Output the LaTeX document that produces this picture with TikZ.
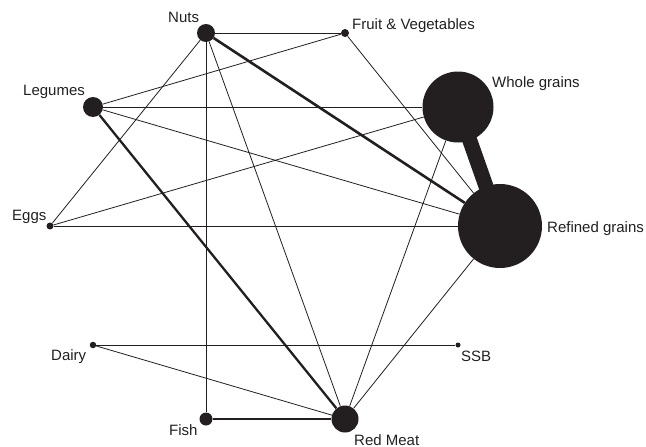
\documentclass[tikz,border=0pt]{standalone}
\usepackage{fontspec}
\setmainfont{Liberation Sans}
\usetikzlibrary{backgrounds}
\definecolor{ink}{RGB}{35,31,32}

\begin{document}
\begin{tikzpicture}[
    x=1pt, y=-1pt,
    food/.style={circle, fill=ink, inner sep=0pt, minimum size=#1},
    lbl/.style={anchor=base west, inner sep=0pt, text=ink,
                font=\fontsize{15}{18}\selectfont},
    link/.style={draw=ink, line width=0.8pt},
    strong/.style={draw=ink, line width=2.3pt}
]
\useasboundingbox (0,0) rectangle (646,447);

% Food groups
\node[food=18pt] (nuts) at (206,33) {};
\node[food=8pt] (fruitveg) at (345,33) {};
\node[food=71pt] (whole) at (458,107) {};
\node[food=84pt] (refined) at (500,226) {};
\node[food=20pt] (legumes) at (93,107) {};
\node[food=7pt] (eggs) at (50,226) {};
\node[food=6.5pt] (dairy) at (93,345) {};
\node[food=5pt] (ssb) at (458,345) {};
\node[food=13pt] (fish) at (206,419) {};
\node[food=27pt] (redmeat) at (345,419) {};

% Labels
\node[lbl] (nutslbl) at (168,22) {Nuts};
\node[lbl] (fruitveglbl) at (352,29) {Fruit \& Vegetables};
\node[lbl] (wholelbl) at (492,87) {Whole grains};
\node[lbl] (refinedlbl) at (547,232) {Refined grains};
\node[lbl] (legumeslbl) at (23,95) {Legumes};
\node[lbl] (eggslbl) at (12,220) {Eggs};
\node[lbl] (dairylbl) at (51,360) {Dairy};
\node[lbl] (ssblbl) at (461,361) {SSB};
\node[lbl] (fishlbl) at (169,435) {Fish};
\node[lbl] (redmeatlbl) at (354,445) {Red Meat};

% Comparisons
\begin{scope}[on background layer]
\draw[link] (nuts) -- (fruitveg);
\draw[link] (nuts) -- (eggs);
\draw[link] (nuts) -- (fish);
\draw[link] (nuts) -- (redmeat);
\draw[strong, line width=2.6pt] (nuts) -- (refined);
\draw[link] (legumes) -- (fruitveg);
\draw[link] (legumes) -- (whole);
\draw[link] (legumes) -- (refined);
\draw[strong] (legumes) -- (redmeat);
\draw[link] (eggs) -- (whole);
\draw[link] (eggs) -- (refined);
\draw[link] (fruitveg) -- (refined);
\draw[draw=ink, line width=15pt] (whole.center) -- (refined.center);
\draw[link] (whole) -- (redmeat);
\draw[link] (refined) -- (redmeat);
\draw[link] (dairy) -- (ssb);
\draw[link] (dairy) -- (redmeat);
\draw[strong] (fish) -- (redmeat);
\end{scope}

\end{tikzpicture}
\end{document}
